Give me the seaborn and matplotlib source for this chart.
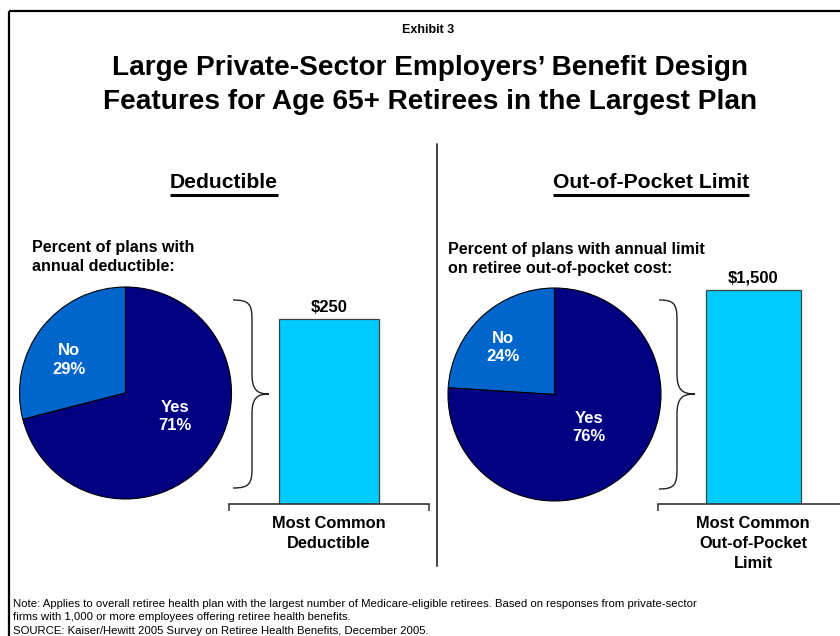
import matplotlib
matplotlib.use("Agg")
import matplotlib.pyplot as plt
from matplotlib.path import Path
from matplotlib.patches import PathPatch
import pandas as pd
import seaborn as sns

# ---- data ----
pie_labels = ["No", "Yes"]
deductible_pct = [29, 71]
oop_limit_pct = [24, 76]

bar_categories_left = ["Most Common\nDeductible"]
bar_values_left = [250]
bar_categories_right = ["Most Common\nOut-of-Pocket\nLimit"]
bar_values_right = [1500]

section_titles = ["Deductible", "Out-of-Pocket Limit"]
pie_captions = ["Percent of plans with\nannual deductible:",
                "Percent of plans with annual limit\non retiree out-of-pocket cost:"]

exhibit_label = "Exhibit 3"
title_text = ("Large Private-Sector Employers\u2019 Benefit Design\n"
              "Features for Age 65+ Retirees in the Largest Plan")
note_lines = [
    "Note: Applies to overall retiree health plan with the largest number of Medicare-eligible retirees. "
    "Based on responses from private-sector",
    "firms with 1,000 or more employees offering retiree health benefits.",
    "SOURCE: Kaiser/Hewitt 2005 Survey on Retiree Health Benefits, December 2005.",
]

# ---- style ----
sns.set_theme(style="white")
plt.rcParams["font.family"] = ["Liberation Sans", "DejaVu Sans"]
plt.rcParams["text.color"] = "black"
plt.rcParams["xtick.labelcolor"] = "black"
plt.rcParams["xtick.color"] = "#333333"

NAVY = "#000080"
MID_BLUE = "#0066CC"
CYAN = "#00CCFF"

W, H = 840, 636
fig = plt.figure(figsize=(W / 100, H / 100), dpi=100)


def rect(x0, y0, x1, y1):
    """Pixel box (top-left origin) -> figure fraction rect."""
    return [x0 / W, 1 - y1 / H, (x1 - x0) / W, (y1 - y0) / H]


# overlay for frame, divider, braces and text
ov = fig.add_axes([0, 0, 1, 1])
ov.set_xlim(0, W)
ov.set_ylim(H, 0)
ov.axis("off")
ov.set_zorder(5)
ov.patch.set_alpha(0)

# frame and divider
ov.plot([8.5, W], [10.5, 10.5], color="black", lw=1.6, solid_capstyle="butt")
ov.plot([8.5, 8.5], [10.5, H], color="black", lw=1.6, solid_capstyle="butt")
ov.plot([437, 437], [144, 566], color="#333333", lw=1.3)

# titles
ov.text(428, 30, exhibit_label, ha="center", va="center", fontsize=9, fontweight="bold")
ov.text(430, 85, title_text, ha="center", va="center", fontsize=20.2,
        fontweight="bold", linespacing=1.4)


def pie_panel(box, values, label_pos):
    ax = fig.add_axes(rect(*box))
    ax.pie(values, colors=[MID_BLUE, NAVY], startangle=90, counterclock=True,
           wedgeprops=dict(edgecolor="black", linewidth=0.8))
    ax.set_xlim(-1, 1)
    ax.set_ylim(-1, 1)
    ax.set_aspect("equal")
    for name, v, (px, py) in zip(pie_labels, values, label_pos):
        ax.text(px, py, f"{name}\n{v}%", ha="center", va="center", color="white",
                fontsize=12, fontweight="bold", linespacing=1.3)
    return ax


pie_panel((19.5, 287, 231.5, 499), deductible_pct, [(-0.53, 0.31), (0.47, -0.22)])
pie_panel((448, 288, 661, 501), oop_limit_pct, [(-0.48, 0.44), (0.32, -0.31)])


def bar_panel(box, cats, vals, ymax):
    ax = fig.add_axes(rect(*box))
    df = pd.DataFrame({"cat": cats, "val": vals})
    sns.barplot(data=df, x="cat", y="val", ax=ax, color=CYAN, width=0.8,
                edgecolor="#404040", linewidth=0.9, saturation=1)
    ax.set_xlim(-0.8, 0.8)
    ax.set_ylim(0, ymax)
    ax.set_xlabel("")
    ax.set_ylabel("")
    ax.set_yticks([])
    ax.patch.set_alpha(0)
    for s in ["top", "right", "left"]:
        ax.spines[s].set_visible(False)
    ax.spines["bottom"].set_color("#333333")
    ax.spines["bottom"].set_linewidth(1.2)
    ax.tick_params(axis="x", which="major", length=0, pad=9)
    ax.set_xticks([-0.8, 0.8], minor=True)
    ax.tick_params(axis="x", which="minor", length=5, width=1.1, color="#333333",
                   direction="out", bottom=True)
    for t in ax.get_xticklabels():
        t.set_fontsize(11.8)
        t.set_fontweight("bold")
        t.set_linespacing(1.4)
        t.set_color("black")
    ax.bar_label(ax.containers[0], labels=[f"${v:,}" for v in vals],
                 padding=3, fontsize=12, fontweight="bold", color="black")
    return ax


bar_panel((229, 280, 429, 504), bar_categories_left, bar_values_left, 302.7)
bar_panel((658, 280, 848, 504), bar_categories_right, bar_values_right, 1570)

# pie captions
ov.text(32, 257, pie_captions[0], ha="left", va="center", fontsize=11.6,
        fontweight="bold", linespacing=1.3)
ov.text(448, 259, pie_captions[1], ha="left", va="center", fontsize=11.6,
        fontweight="bold", linespacing=1.3)


def brace(x0, xv, xt, yt, ym, yb):
    verts = [(x0, yt),
             (x0 + 0.85 * (xv - x0), yt), (xv, yt + 4), (xv, yt + 20),
             (xv, ym - 20),
             (xv, ym - 4), (xv + 0.3 * (xt - xv), ym), (xt, ym),
             (xv + 0.3 * (xt - xv), ym), (xv, ym + 4), (xv, ym + 20),
             (xv, yb - 20),
             (xv, yb - 4), (x0 + 0.85 * (xv - x0), yb), (x0, yb)]
    codes = [Path.MOVETO,
             Path.CURVE4, Path.CURVE4, Path.CURVE4,
             Path.LINETO,
             Path.CURVE4, Path.CURVE4, Path.CURVE4,
             Path.CURVE4, Path.CURVE4, Path.CURVE4,
             Path.LINETO,
             Path.CURVE4, Path.CURVE4, Path.CURVE4]
    ov.add_patch(PathPatch(Path(verts, codes), fill=False, edgecolor="#222222", lw=1.0))


brace(233, 252, 269, 300, 394, 488)
brace(659, 677, 695, 300, 394, 489)

# underlined section headings
fig.canvas.draw()
renderer = fig.canvas.get_renderer()
for cx, txt in zip([224, 651], section_titles):
    t = ov.text(cx, 183, txt, ha="center", va="center", fontsize=15.2, fontweight="bold")
    bb = t.get_window_extent(renderer=renderer)
    ov.plot([bb.x0, bb.x1], [194.5, 194.5], color="black", lw=2.2, solid_capstyle="butt")

# notes
for i, line in enumerate(note_lines):
    ov.text(13, 604 + i * 13.5, line, ha="left", va="center", fontsize=8.2,
            family=["Liberation Sans Narrow", "Liberation Sans", "DejaVu Sans"])

fig.savefig("out.png", dpi=100)
